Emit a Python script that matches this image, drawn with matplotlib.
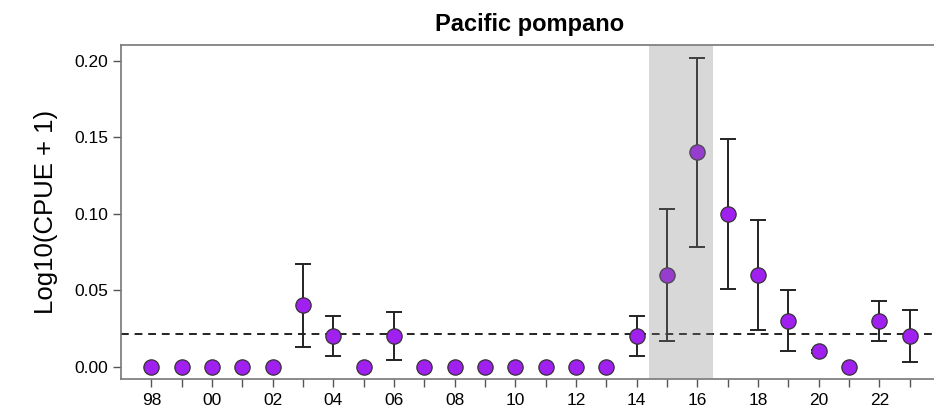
import matplotlib
matplotlib.use("Agg")
import matplotlib.pyplot as plt
import numpy as np

plt.rcParams['font.family'] = ['Liberation Sans', 'DejaVu Sans']

# survey years and index values (log10(CPUE+1))
years = np.arange(1998, 2024)
cpue = [0.0, 0.0, 0.0, 0.0, 0.0, 0.040, 0.020, 0.0, 0.020, 0.0,
        0.0, 0.0, 0.0, 0.0, 0.0, 0.0, 0.020, 0.060, 0.140, 0.100,
        0.060, 0.030, 0.010, 0.0, 0.030, 0.020]
upper = [0.0, 0.0, 0.0, 0.0, 0.0, 0.067, 0.033, 0.0, 0.036, 0.0,
         0.0, 0.0, 0.0, 0.0, 0.0, 0.0, 0.033, 0.103, 0.202, 0.149,
         0.096, 0.050, 0.011, 0.0, 0.043, 0.037]
lower = [0.0, 0.0, 0.0, 0.0, 0.0, 0.013, 0.007, 0.0, 0.004, 0.0,
         0.0, 0.0, 0.0, 0.0, 0.0, 0.0, 0.007, 0.017, 0.078, 0.051,
         0.024, 0.010, 0.009, 0.0, 0.017, 0.003]
mean_line = 0.021
shade_years = (2014.4, 2016.5)
xtick_labels = ['%02d' % (y % 100) if y % 2 == 0 else '' for y in years]
ytick_vals = [0.00, 0.05, 0.10, 0.15, 0.20]

cpue = np.array(cpue)
upper = np.array(upper)
lower = np.array(lower)

fig = plt.figure(figsize=(9.34, 4.11), dpi=100)
ax = fig.add_axes([121 / 934, 32 / 411, 819 / 934, 334 / 411])

ax.set_xlim(1997, 2024)
ax.set_ylim(-0.0081, 0.2102)

has_err = upper > lower
ax.errorbar(years[has_err], cpue[has_err],
            yerr=[cpue[has_err] - lower[has_err], upper[has_err] - cpue[has_err]],
            fmt='none', ecolor='#222222', elinewidth=1.4, capsize=6, capthick=1.4, zorder=2)
ax.axhline(mean_line, color='#222222', linestyle=(0, (4, 3)), linewidth=1.4, zorder=1)
ax.plot(years, cpue, 'o', ms=11, mfc='#a020f0', mec='#333333', mew=0.9, zorder=3)
ax.axvspan(*shade_years, color='gray', alpha=0.3, lw=0, zorder=4)

ax.set_xticks(years)
ax.set_xticklabels(xtick_labels)
ax.tick_params(axis='x', length=6, width=1, color='#555555', labelsize=12.5, pad=4)
ax.set_yticks(ytick_vals)
ax.set_yticklabels(['%.2f' % v for v in ytick_vals])
ax.tick_params(axis='y', length=6, width=1, color='#555555', labelsize=12.5, pad=3)

for s in ax.spines.values():
    s.set_color('#777777')
    s.set_linewidth(1.2)

ax.set_ylabel('Log10(CPUE + 1)', fontsize=18.5, labelpad=12)
ax.set_title('Pacific pompano', fontsize=17, fontweight='bold', pad=10,
             x=(530 - 121) / 819)

fig.savefig('out.png', dpi=100)
